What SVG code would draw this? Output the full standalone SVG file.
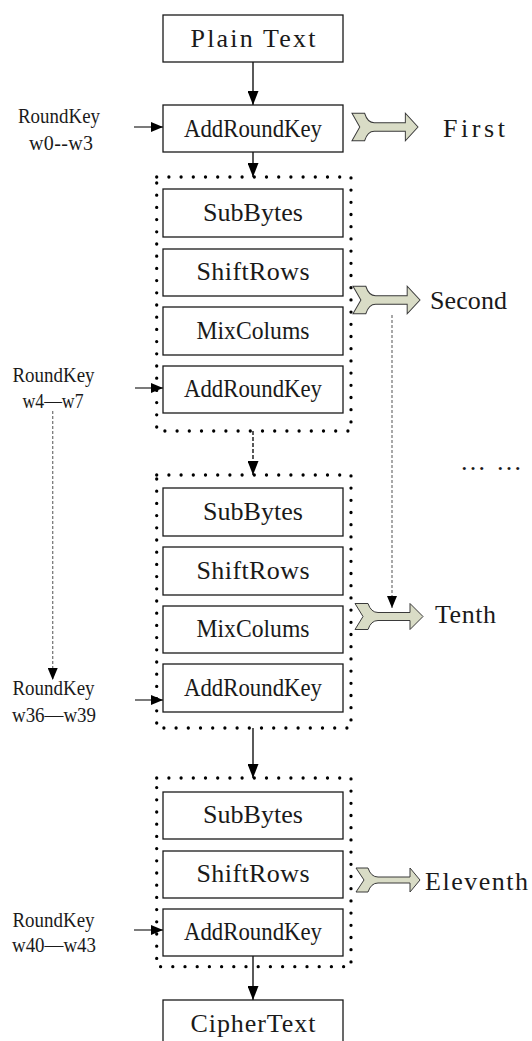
<svg xmlns="http://www.w3.org/2000/svg" width="532" height="1041" viewBox="0 0 532 1041">
<style>
.box{fill:#fff;stroke:#1a1a1a;stroke-width:1.3}
.lbl{font-family:"Liberation Serif","DejaVu Serif",serif;font-size:26px;fill:#1a1a1a;text-anchor:middle}
.rl{font-family:"Liberation Serif","DejaVu Serif",serif;font-size:26px;fill:#1a1a1a}
.kl{font-family:"Liberation Serif","DejaVu Serif",serif;font-size:20px;fill:#1a1a1a;text-anchor:middle}
.dots{fill:none;stroke:#000;stroke-width:3.3;stroke-linecap:round;stroke-dasharray:0 12.2}
.ln{fill:none;stroke:#000;stroke-width:1.3}
.hl{fill:none;stroke:#333;stroke-width:1.3}
.dk{fill:none;stroke:#000;stroke-width:1.3;stroke-dasharray:4 2}
.gr{fill:none;stroke:#7a7a7a;stroke-width:1.3;stroke-dasharray:3 2}
.fat{fill:#d9dcc6;stroke:#3a3a3a;stroke-width:1}
</style>
<defs>
<marker id="ah" viewBox="0 0 14 11" refX="14" refY="5.5" markerWidth="14" markerHeight="11" markerUnits="userSpaceOnUse" orient="auto"><path d="M0,0 L14,5.5 L0,11 Z" fill="#000"/></marker>
<marker id="ahs" viewBox="0 0 12 10" refX="12" refY="5" markerWidth="12" markerHeight="10" markerUnits="userSpaceOnUse" orient="auto"><path d="M0,0 L12,5 L0,10 Z" fill="#000"/></marker>
<path id="fa" d="M0,-13 L13,-13 Q16,-4 23,-4 L55,-4 L55,-13 L68,0 L55,13 L55,4 L23,4 Q16,4 13,13 L0,13 L8,0 Z"/>
<path id="fa2" d="M0,-12 L12,-12 Q15,-3 22,-3 L54,-3 L54,-12 L64,0 L54,12 L54,3 L22,3 Q15,3 12,12 L0,12 L8,0 Z"/>
</defs>

<g id="round-frames">
<rect class="dots" x="156.7" y="177" width="194.3" height="254"/>
<rect class="dots" x="156.7" y="475" width="194.3" height="253"/>
<rect class="dots" x="156.7" y="778" width="194.3" height="188.7"/>
</g>

<g id="connectors">
<line class="ln" x1="253" y1="62" x2="253" y2="105" marker-end="url(#ah)"/>
<line class="ln" x1="253" y1="152" x2="253" y2="177" marker-end="url(#ah)"/>
<line class="dk" x1="253" y1="431" x2="253" y2="475" marker-end="url(#ah)"/>
<line class="ln" x1="253" y1="728" x2="253" y2="778" marker-end="url(#ah)"/>
<line class="ln" x1="253" y1="956" x2="253" y2="1000" marker-end="url(#ah)"/>
<line class="hl" x1="134" y1="127" x2="163" y2="127" marker-end="url(#ahs)"/>
<line class="hl" x1="135" y1="388" x2="163" y2="388" marker-end="url(#ahs)"/>
<line class="hl" x1="135" y1="700" x2="163" y2="700" marker-end="url(#ahs)"/>
<line class="hl" x1="134" y1="930" x2="163" y2="930" marker-end="url(#ahs)"/>
<line class="gr" x1="52.7" y1="411" x2="52.7" y2="680" marker-end="url(#ahs)"/>
<line class="gr" x1="392" y1="315" x2="392" y2="608" marker-end="url(#ahs)"/>
</g>

<g id="plain-text"><rect class="box" x="163" y="15" width="180" height="47"/><text class="lbl" x="253" y="47" textLength="125" lengthAdjust="spacing">Plain Text</text></g>
<g id="addroundkey-0"><rect class="box" x="163" y="105" width="180" height="47"/><text class="lbl" x="253" y="137" textLength="138" lengthAdjust="spacingAndGlyphs">AddRoundKey</text></g>

<g id="subbytes-1"><rect class="box" x="163" y="189" width="180" height="48"/><text class="lbl" x="253" y="221" textLength="100" lengthAdjust="spacingAndGlyphs">SubBytes</text></g>
<g id="shiftrows-1"><rect class="box" x="163" y="249" width="180" height="47"/><text class="lbl" x="253" y="280" textLength="113" lengthAdjust="spacing">ShiftRows</text></g>
<g id="mixcolums-1"><rect class="box" x="163" y="307" width="180" height="48"/><text class="lbl" x="253" y="339" textLength="113" lengthAdjust="spacingAndGlyphs">MixColums</text></g>
<g id="addroundkey-1"><rect class="box" x="163" y="366" width="180" height="47"/><text class="lbl" x="253" y="397" textLength="138" lengthAdjust="spacingAndGlyphs">AddRoundKey</text></g>

<g id="subbytes-2"><rect class="box" x="163" y="488" width="180" height="48"/><text class="lbl" x="253" y="520" textLength="100" lengthAdjust="spacingAndGlyphs">SubBytes</text></g>
<g id="shiftrows-2"><rect class="box" x="163" y="547" width="180" height="48"/><text class="lbl" x="253" y="579" textLength="113" lengthAdjust="spacing">ShiftRows</text></g>
<g id="mixcolums-2"><rect class="box" x="163" y="606" width="180" height="47"/><text class="lbl" x="253" y="637" textLength="113" lengthAdjust="spacingAndGlyphs">MixColums</text></g>
<g id="addroundkey-2"><rect class="box" x="163" y="664" width="180" height="48"/><text class="lbl" x="253" y="696" textLength="138" lengthAdjust="spacingAndGlyphs">AddRoundKey</text></g>

<g id="subbytes-3"><rect class="box" x="163" y="792" width="180" height="47"/><text class="lbl" x="253" y="823" textLength="100" lengthAdjust="spacingAndGlyphs">SubBytes</text></g>
<g id="shiftrows-3"><rect class="box" x="163" y="851" width="180" height="47"/><text class="lbl" x="253" y="882" textLength="113" lengthAdjust="spacing">ShiftRows</text></g>
<g id="addroundkey-3"><rect class="box" x="163" y="909" width="180" height="47"/><text class="lbl" x="253" y="940" textLength="138" lengthAdjust="spacingAndGlyphs">AddRoundKey</text></g>

<g id="ciphertext"><rect class="box" x="163" y="1000" width="180" height="47"/><text class="lbl" x="253" y="1032" textLength="125" lengthAdjust="spacing">CipherText</text></g>

<g id="key-0"><text class="kl" x="59" y="123" textLength="82" lengthAdjust="spacingAndGlyphs">RoundKey</text><text class="kl" x="61" y="150" textLength="64" lengthAdjust="spacing">w0--w3</text></g>
<g id="key-1"><text class="kl" x="53.5" y="382" textLength="82" lengthAdjust="spacingAndGlyphs">RoundKey</text><text class="kl" x="53" y="408" textLength="61" lengthAdjust="spacingAndGlyphs">w4—w7</text></g>
<g id="key-2"><text class="kl" x="53.5" y="695" textLength="82" lengthAdjust="spacingAndGlyphs">RoundKey</text><text class="kl" x="54" y="722" textLength="84" lengthAdjust="spacingAndGlyphs">w36—w39</text></g>
<g id="key-3"><text class="kl" x="53.5" y="927" textLength="82" lengthAdjust="spacingAndGlyphs">RoundKey</text><text class="kl" x="54" y="952" textLength="84" lengthAdjust="spacingAndGlyphs">w40—w43</text></g>

<g id="first"><use href="#fa" class="fat" transform="translate(352,127) scale(0.97,1.06)"/><text class="rl" x="443" y="137" textLength="62" lengthAdjust="spacing">First</text></g>
<g id="second"><use href="#fa" class="fat" transform="translate(353,300) scale(0.985,1.06)"/><text class="rl" x="430" y="309" textLength="77" lengthAdjust="spacing">Second</text></g>
<g id="tenth"><use href="#fa" class="fat" transform="translate(355,616.5)"/><text class="rl" x="435" y="623" textLength="61" lengthAdjust="spacing">Tenth</text></g>
<g id="eleventh"><use href="#fa2" class="fat" transform="translate(356,880)"/><text class="rl" x="425" y="890" textLength="103" lengthAdjust="spacing">Eleventh</text></g>
<g id="ellipsis"><text class="rl" x="460" y="470" textLength="62" lengthAdjust="spacing">… …</text></g>
</svg>
